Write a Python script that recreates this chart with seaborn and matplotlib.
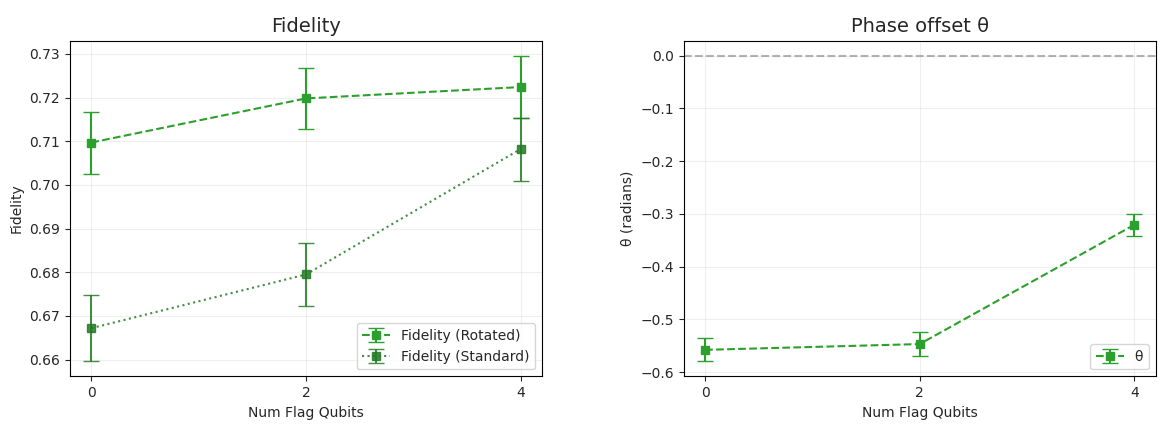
import matplotlib
matplotlib.use("Agg")
import matplotlib.pyplot as plt
import seaborn as sns
import pandas as pd

# Data
flag_qubits = [0, 2, 4]
fid_rot = [0.7097, 0.7198, 0.7224]
fid_rot_err = [0.0071, 0.0069, 0.0071]
fid_std = [0.6672, 0.6795, 0.7082]
fid_std_err = [0.0076, 0.0072, 0.0072]
theta = [-0.558, -0.547, -0.321]
theta_err = [0.022, 0.022, 0.021]

sns.set_style("white")
plt.rcParams['font.family'] = ['DejaVu Sans']

df = pd.DataFrame({"n": flag_qubits, "rot": fid_rot, "std": fid_std, "theta": theta})

fig, (ax1, ax2) = plt.subplots(1, 2, figsize=(11.65, 4.29), dpi=100)
fig.subplots_adjust(left=0.06, right=0.992, top=0.905, bottom=0.123, wspace=0.3)

green = "#2ca02c"
dark = "#237a23"

ax1.errorbar(df["n"], df["rot"], yerr=fid_rot_err, color=green, ls="--", marker="s",
             capsize=6, label="Fidelity (Rotated)")
ax1.errorbar(df["n"], df["std"], yerr=fid_std_err, color=dark, ls=":", marker="s",
             capsize=6, alpha=0.85, label="Fidelity (Standard)")
ax1.set_title("Fidelity", fontsize=14)
ax1.set_xlabel("Num Flag Qubits")
ax1.set_ylabel("Fidelity")
ax1.set_xticks(flag_qubits)
ax1.set_ylim(0.6562, 0.733)
ax1.grid(True, alpha=0.3)
ax1.legend(loc="lower right")

ax2.axhline(0, color="gray", ls="--", alpha=0.6)
ax2.errorbar(df["n"], df["theta"], yerr=theta_err, color=green, ls="--", marker="s",
             capsize=6, label="θ")
ax2.set_title("Phase offset θ", fontsize=14)
ax2.set_xlabel("Num Flag Qubits")
ax2.set_ylabel("θ (radians)")
ax2.set_xticks(flag_qubits)
ax2.set_ylim(-0.608, 0.028)
ax2.grid(True, alpha=0.3)
ax2.legend(loc="lower right")

for ax in (ax1, ax2):
    ax.tick_params(left=True, bottom=True)
    for s in ax.spines.values():
        s.set_color("black")

fig.savefig("out.png")
